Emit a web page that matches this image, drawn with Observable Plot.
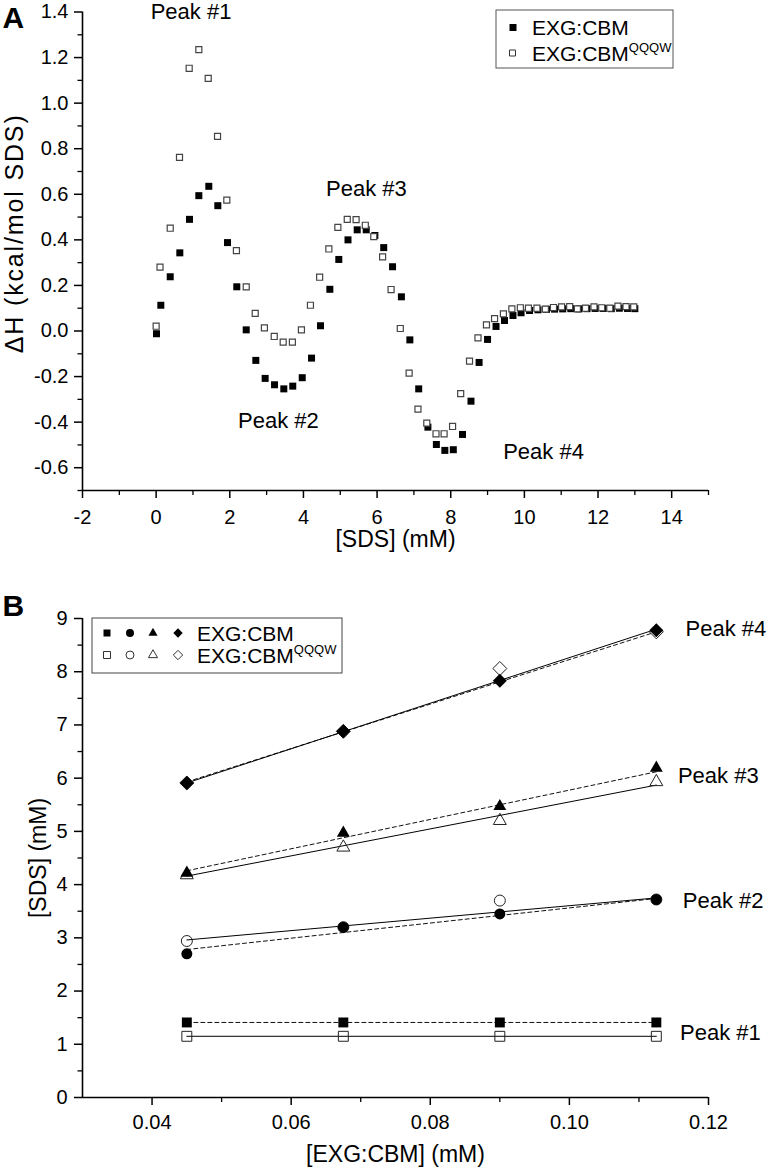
<!DOCTYPE html>
<html>
<head>
<meta charset="utf-8">
<script src="https://cdn.jsdelivr.net/npm/d3@7"></script>
<script src="https://cdn.jsdelivr.net/npm/@observablehq/plot@0.6"></script>
<style>
  body { margin: 0; background: #fff; }
  #wrap { position: relative; width: 768px; height: 1174px; overflow: hidden; background: #fff; }
  #wrap > svg { position: absolute; left: 0; }
  #overlay { position: absolute; left: 0; top: 0; pointer-events: none; }
</style>
</head>
<body>
<div id="wrap"></div>
<script>
const FONT = '"Liberation Sans", Arial, Helvetica, sans-serif';

// ---------- Panel A data: ΔH vs [SDS] ----------
const sdsFilled = [0.01,0.127,0.382,0.643,0.906,1.159,1.43,1.675,1.938,2.19,2.446,2.707,2.96,3.215,3.467,3.71,3.967,4.22,4.464,4.717,4.96,5.21,5.46,5.705,5.94,6.18,6.42,6.66,6.89,7.13,7.38,7.61,7.84,8.07,8.32,8.55,8.77,9.0,9.23,9.46,9.69,9.91,10.14,10.37,10.6,10.82,11.04,11.26,11.48,11.70,11.92,12.14,12.36,12.58,12.80,13.0];
const dhFilled = [-0.012,0.113,0.238,0.343,0.49,0.594,0.635,0.55,0.388,0.194,0.005,-0.129,-0.208,-0.236,-0.254,-0.242,-0.205,-0.119,0.023,0.183,0.314,0.40,0.444,0.444,0.419,0.366,0.282,0.15,-0.039,-0.254,-0.422,-0.498,-0.524,-0.521,-0.454,-0.308,-0.138,-0.037,0.02,0.046,0.068,0.08,0.09,0.093,0.095,0.096,0.097,0.098,0.097,0.098,0.099,0.099,0.098,0.1,0.099,0.098];
const sdsOpen = [0.0,0.105,0.382,0.634,0.897,1.159,1.414,1.667,1.919,2.18,2.446,2.69,2.94,3.207,3.45,3.70,3.945,4.19,4.44,4.69,4.935,5.19,5.43,5.68,5.91,6.15,6.38,6.63,6.87,7.11,7.35,7.60,7.82,8.05,8.27,8.51,8.74,8.97,9.19,9.43,9.66,9.89,10.11,10.34,10.57,10.79,11.01,11.23,11.44,11.66,11.89,12.10,12.32,12.54,12.76,12.97];
const dhOpen = [0.021,0.28,0.451,0.762,1.153,1.235,1.109,0.854,0.574,0.353,0.194,0.077,0.014,-0.024,-0.049,-0.049,0.005,0.113,0.236,0.36,0.455,0.49,0.489,0.464,0.414,0.325,0.182,0.011,-0.185,-0.343,-0.404,-0.451,-0.451,-0.419,-0.275,-0.132,-0.03,0.027,0.054,0.075,0.097,0.102,0.10,0.10,0.096,0.103,0.106,0.107,0.097,0.10,0.106,0.102,0.10,0.109,0.107,0.106];

const xTicksA = [-2,0,2,4,6,8,10,12,14];
const xMinorA = [-1,1,3,5,7,9,11,13,15];
const yTicksA = [-0.6,-0.4,-0.2,0.0,0.2,0.4,0.6,0.8,1.0,1.2,1.4];
const yMinorA = [-0.7,-0.5,-0.3,-0.1,0.1,0.3,0.5,0.7,0.9,1.1,1.3];

const peakLabelsA = ["Peak #1","Peak #2","Peak #3","Peak #4"];
const peakLabelXA = [0.947, 3.32, 5.71, 10.52];
const peakLabelYA = [1.399, -0.393, 0.625, -0.533];

// ---------- Panel B data: peak [SDS] vs [EXG:CBM] ----------
const exgConc = [0.045, 0.0675, 0.09, 0.1125];
const peak1Wt  = [1.41, 1.41, 1.41, 1.41];
const peak1Mut = [1.15, 1.15, 1.15, 1.15];
const peak2Wt  = [2.70, 3.20, 3.45, 3.72];
const peak2Mut = [2.94, 3.20, 3.70, 3.72];
const peak3Wt  = [4.22, 4.97, 5.47, 6.19];
const peak3Mut = [4.18, 4.70, 5.20, 5.93];
const peak4Wt  = [5.91, 6.88, 7.83, 8.78];
const peak4Mut = [5.91, 6.88, 8.06, 8.75];

// linear-fit lines (end points)
const fitX = [0.045, 0.1125];
const fitWt  = [[1.41, 1.41], [2.78, 3.74], [4.26, 6.12], [5.93, 8.75]]; // dashed
const fitMut = [[1.15, 1.15], [2.96, 3.75], [4.16, 5.87], [5.91, 8.80]]; // solid

const xTicksB = [0.04, 0.06, 0.08, 0.10, 0.12];
const xMinorB = [0.05, 0.07, 0.09, 0.11];
const yTicksB = [0,1,2,3,4,5,6,7,8,9];
const yMinorB = [0.5,1.5,2.5,3.5,4.5,5.5,6.5,7.5,8.5];

const peakLabelsB = ["Peak #1","Peak #2","Peak #3","Peak #4"];
const peakLabelXB = [0.1159, 0.1163, 0.1156, 0.1167];
const peakLabelYB = [1.22, 3.70, 6.05, 8.80];

const symbols = ["square", "circle", "triangle", "diamond2"];
const symbolR = {square: 5.6, circle: 5.5, triangle: 4.8, diamond2: 6.3};

// ---------- build tables ----------
const filledA = sdsFilled.map((x, i) => ({x, y: dhFilled[i]}));
const openA = sdsOpen.map((x, i) => ({x, y: dhOpen[i]}));
const labelsA = peakLabelsA.map((t, i) => ({t, x: peakLabelXA[i], y: peakLabelYA[i]}));

const wtSeries = [peak1Wt, peak2Wt, peak3Wt, peak4Wt];
const mutSeries = [peak1Mut, peak2Mut, peak3Mut, peak4Mut];
const ptsB = [];
symbols.forEach((s, k) => {
  exgConc.forEach((x, i) => {
    ptsB.push({x, y: wtSeries[k][i], sym: s, filled: true});
    ptsB.push({x, y: mutSeries[k][i], sym: s, filled: false});
  });
});
const fitRowsWt = [], fitRowsMut = [];
fitWt.forEach((ys, k) => fitX.forEach((x, i) => fitRowsWt.push({x, y: ys[i], k})));
fitMut.forEach((ys, k) => fitX.forEach((x, i) => fitRowsMut.push({x, y: ys[i], k})));
const labelsB = peakLabelsB.map((t, i) => ({t, x: peakLabelXB[i], y: peakLabelYB[i]}));

const baseStyle = {fontFamily: FONT, fontSize: "20px", color: "#000", background: "transparent", overflow: "visible"};

// ---------- Panel A ----------
const plotA = Plot.plot({
  width: 768, height: 600,
  marginLeft: 82, marginRight: 60, marginTop: 11.5, marginBottom: 110,
  x: {domain: [-2, 15], label: null},
  y: {domain: [-0.7, 1.4], label: null},
  style: baseStyle,
  marks: [
    Plot.axisX(xMinorA, {tickSize: 5, tickFormat: () => "", strokeWidth: 1.3, label: null}),
    Plot.axisX(xTicksA, {tickSize: 8, tickPadding: 11, tickFormat: d => String(d), strokeWidth: 1.5, fontSize: 20, label: null}),
    Plot.axisY(yMinorA, {tickSize: 4.5, tickFormat: () => "", strokeWidth: 1.3, label: null}),
    Plot.axisY(yTicksA, {tickSize: 8, tickPadding: 6, tickFormat: d => d.toFixed(1), strokeWidth: 1.5, fontSize: 20, label: null}),
    Plot.ruleX([-2], {strokeWidth: 1.6}),
    Plot.ruleY([-0.7], {strokeWidth: 1.6}),
    Plot.dot(filledA, {x: "x", y: "y", symbol: "square", r: 3.95, fill: "#000", stroke: "none"}),
    Plot.dot(openA, {x: "x", y: "y", symbol: "square", r: 3.4, fill: "#fff", stroke: "#444", strokeWidth: 1.2}),
    Plot.text(labelsA, {x: "x", y: "y", text: "t", fontSize: 22, fill: "#000"}),
    Plot.text(["[SDS] (mM)"], {frameAnchor: "bottom", textAnchor: "middle", dy: 56, fontSize: 23, fill: "#000"}),
    Plot.text(["ΔH (kcal/mol SDS)"], {frameAnchor: "left", textAnchor: "middle", dx: -68, dy: -17, rotate: -90, fontSize: 25, fill: "#000", className: "ylabA"}),
    Plot.text(["A"], {frameAnchor: "top-left", dx: -80, dy: 15.5, textAnchor: "start", lineAnchor: "bottom", fontSize: 30, fontWeight: "bold", fill: "#000"})
  ]
});
plotA.style.top = "0px";
// stretch the ΔH title to the length it has in the figure
d3.select(plotA).selectAll("text").filter(function() { return this.textContent === "ΔH (kcal/mol SDS)"; })
  .attr("textLength", 238).attr("lengthAdjust", "spacing");

// ---------- Panel B ----------
const marksB = [
  Plot.axisX(xMinorB, {tickSize: 5, tickFormat: () => "", strokeWidth: 1.3, label: null}),
  Plot.axisX(xTicksB, {tickSize: 8, tickPadding: 9, tickFormat: d => d.toFixed(2), strokeWidth: 1.5, fontSize: 20, label: null}),
  Plot.axisY(yMinorB, {tickSize: 4.5, tickFormat: () => "", strokeWidth: 1.3, label: null}),
  Plot.axisY(yTicksB, {tickSize: 8, tickPadding: 7, tickFormat: d => String(d), strokeWidth: 1.5, fontSize: 20, label: null}),
  Plot.ruleX([0.03], {strokeWidth: 1.6}),
  Plot.ruleY([0], {strokeWidth: 1.6}),
  Plot.line(fitRowsWt, {x: "x", y: "y", z: "k", stroke: "#111", strokeWidth: 1, strokeDasharray: "4,3"}),
  Plot.line(fitRowsMut, {x: "x", y: "y", z: "k", stroke: "#000", strokeWidth: 1})
];
symbols.forEach(s => {
  marksB.push(Plot.dot(ptsB.filter(d => d.sym === s && !d.filled), {x: "x", y: "y", symbol: s, r: symbolR[s], fill: "none", stroke: "#222", strokeWidth: 1}));
});
symbols.forEach(s => {
  marksB.push(Plot.dot(ptsB.filter(d => d.sym === s && d.filled), {x: "x", y: "y", symbol: s, r: symbolR[s], fill: "#000", stroke: "none"}));
});
marksB.push(
  Plot.text(labelsB, {x: "x", y: "y", text: "t", textAnchor: "start", fontSize: 22, fill: "#000"}),
  Plot.text(["[EXG:CBM] (mM)"], {frameAnchor: "bottom", textAnchor: "middle", dy: 64, fontSize: 23, fill: "#000"}),
  Plot.text(["[SDS] (mM)"], {frameAnchor: "left", textAnchor: "middle", dx: -44, rotate: -90, fontSize: 23, fill: "#000"}),
  Plot.text(["B"], {frameAnchor: "top-left", dx: -80, dy: -3, textAnchor: "start", lineAnchor: "bottom", fontSize: 30, fontWeight: "bold", fill: "#000"})
);
const plotB = Plot.plot({
  width: 768, height: 574,
  marginLeft: 82, marginRight: 60, marginTop: 18, marginBottom: 77,
  x: {domain: [0.03, 0.12], label: null},
  y: {domain: [0, 9], label: null},
  style: baseStyle,
  marks: marksB
});
plotB.style.top = "600px";

const wrap = document.getElementById("wrap");
wrap.appendChild(plotA);
wrap.appendChild(plotB);

// ---------- Legends (overlay) ----------
const ov = d3.select(wrap).append("svg").attr("id", "overlay")
  .attr("width", 768).attr("height", 1174)
  .style("font-family", FONT);

function sym(g, type, cx, cy, size, filled) {
  g.append("path")
    .attr("d", d3.symbol(type, size)())
    .attr("transform", `translate(${cx},${cy})`)
    .attr("fill", filled ? "#000" : "none")
    .attr("stroke", filled ? "none" : "#333")
    .attr("stroke-width", 1);
}
function legendText(g, x, y, sup) {
  const t = g.append("text").attr("x", x).attr("y", y).attr("font-size", 21).attr("fill", "#000").text("EXG:CBM");
  if (sup) t.append("tspan").attr("dy", -9).attr("font-size", 13).text("QQQW");
}

// Legend A
const la = ov.append("g");
la.append("rect").attr("x", 496).attr("y", 10).attr("width", 177).attr("height", 58)
  .attr("fill", "#fff").attr("stroke", "#555").attr("stroke-width", 1);
sym(la, d3.symbolSquare, 513, 27.5, 49, true);
sym(la, d3.symbolSquare, 512.5, 53, 36, false);
legendText(la, 532, 35, false);
legendText(la, 532, 61, true);

// Legend B
const lb = ov.append("g");
lb.append("rect").attr("x", 92).attr("y", 618).attr("width", 250).attr("height", 55)
  .attr("fill", "#fff").attr("stroke", "#444").attr("stroke-width", 1);
const legSyms = [[d3.symbolSquare, 107, 49], [d3.symbolCircle, 130, 50], [d3.symbolTriangle, 153, 36], [d3.symbolDiamond2, 178, 56]];
legSyms.forEach(([t, x, s]) => { sym(lb, t, x, 633, s, true); sym(lb, t, x, 655, s, false); });
legendText(lb, 197, 640.5, false);
legendText(lb, 197, 662.5, true);
</script>
</body>
</html>
